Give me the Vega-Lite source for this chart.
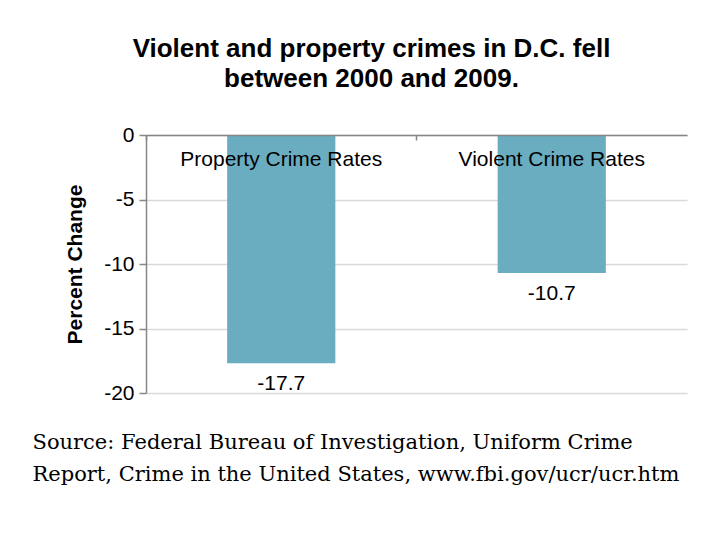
{
  "$schema": "https://vega.github.io/schema/vega-lite/v6.json",
  "width": 541,
  "height": 258,
  "autosize": {"type": "none"},
  "padding": {"left": 146, "top": 135, "right": 29, "bottom": 151},
  "background": "white",
  "title": {
    "text": ["Violent and property crimes in D.C. fell", "between 2000 and 2009."],
    "font": "Liberation Sans",
    "fontSize": 26,
    "fontWeight": "bold",
    "color": "black",
    "anchor": "middle",
    "frame": "group",
    "dx": -45,
    "offset": 32,
    "lineHeight": 30
  },
  "data": {
    "values": [
      {"category": "Property Crime Rates", "change": -17.7},
      {"category": "Violent Crime Rates", "change": -10.7}
    ]
  },
  "layer": [
    {
      "mark": {"type": "bar", "color": "#6aadc0"},
      "encoding": {
        "x": {
          "field": "category",
          "type": "nominal",
          "sort": null,
          "scale": {"paddingInner": 0.6, "paddingOuter": 0.3},
          "axis": {
            "orient": "top",
            "labels": false,
            "title": null,
            "grid": false,
            "domainColor": "#868686",
            "domainWidth": 1.5,
            "tickColor": "#868686",
            "tickWidth": 1.5,
            "ticks": true,
            "tickSize": -5,
            "bandPosition": -0.75,
            "zindex": 1
          }
        },
        "y": {
          "field": "change",
          "type": "quantitative",
          "scale": {"domain": [-20, 0], "nice": false, "zero": true},
          "axis": {"title": "Percent Change", "values": [0, -5, -10, -15, -20], "labelExpr": "'' + datum.value"}
        }
      }
    },
    {
      "mark": {"type": "text", "baseline": "middle", "dy": 21, "font": "Liberation Sans", "fontSize": 21, "color": "black"},
      "encoding": {
        "x": {"field": "category", "type": "nominal", "sort": null, "axis": null},
        "y": {
          "field": "change",
          "type": "quantitative",
          "axis": {"title": "Percent Change", "values": [0, -5, -10, -15, -20], "labelExpr": "'' + datum.value"}
        },
        "text": {"field": "change", "type": "nominal"}
      }
    },
    {
      "mark": {"type": "text", "baseline": "middle", "dy": 25, "font": "Liberation Sans", "fontSize": 21, "color": "black"},
      "encoding": {
        "x": {
          "field": "category",
          "type": "nominal",
          "sort": null,
          "axis": {
            "orient": "bottom",
            "labels": false,
            "ticks": false,
            "domain": false,
            "grid": false,
            "title": ["Source: Federal Bureau of Investigation, Uniform Crime", "Report, Crime in the United States, www.fbi.gov/ucr/ucr.htm"],
            "titleFont": "DejaVu Serif",
            "titleFontSize": 21,
            "titleFontWeight": "normal",
            "titleColor": "black",
            "titleAnchor": "start",
            "titleAlign": "left",
            "titleBaseline": "alphabetic",
            "titleX": -114,
            "titleY": 55,
            "titleLineHeight": 32
          }
        },
        "y": {
          "datum": 0,
          "type": "quantitative",
          "axis": {"title": "Percent Change", "values": [0, -5, -10, -15, -20], "labelExpr": "'' + datum.value"}
        },
        "text": {"field": "category", "type": "nominal"}
      }
    }
  ],
  "resolve": {"axis": {"x": "independent"}},
  "config": {
    "view": {"stroke": null},
    "axisY": {
      "grid": true,
      "gridColor": "#d9d9d9",
      "gridWidth": 1.5,
      "domainColor": "#868686",
      "domainWidth": 1.5,
      "tickColor": "#868686",
      "tickWidth": 1.5,
      "tickSize": 7,
      "labelFont": "Liberation Sans",
      "labelFontSize": 21,
      "labelColor": "black",
      "labelPadding": 5,
      "titleFont": "Liberation Sans",
      "titleFontSize": 21,
      "titleFontWeight": "bold",
      "titleColor": "black",
      "titlePadding": 18
    }
  }
}
